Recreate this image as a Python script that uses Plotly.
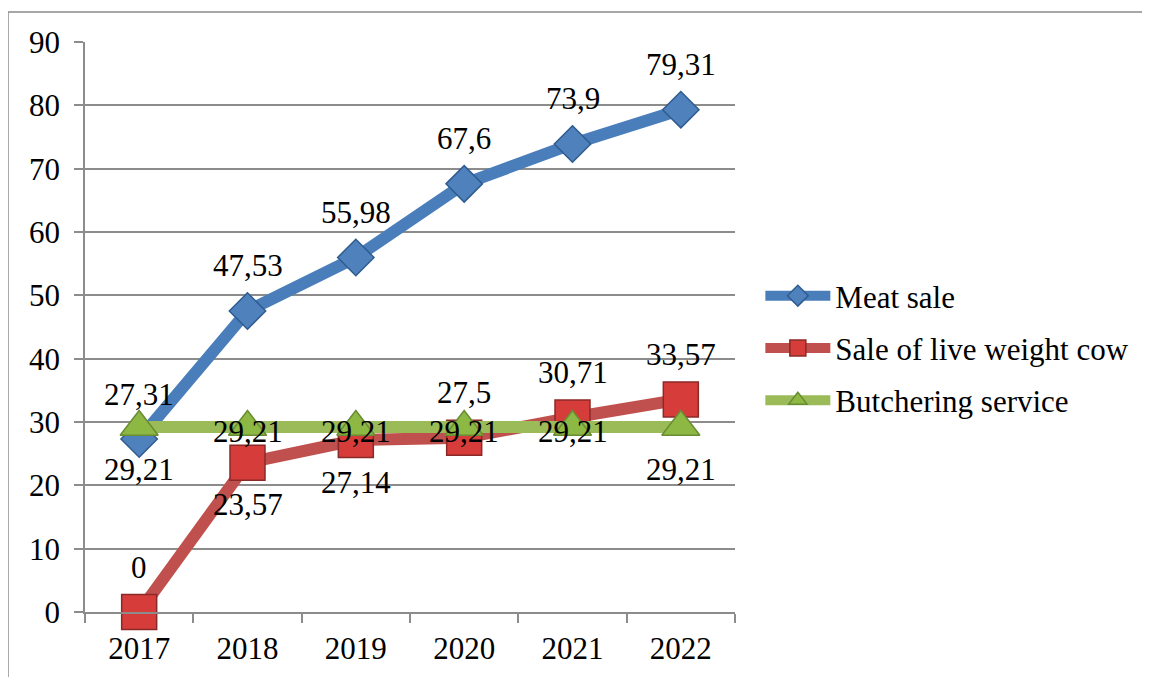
import plotly.graph_objects as go

years = [2017, 2018, 2019, 2020, 2021, 2022]
meat_sale = [27.31, 47.53, 55.98, 67.6, 73.9, 79.31]
live_weight = [0, 23.57, 27.14, 27.5, 30.71, 33.57]
butchering = [29.21, 29.21, 29.21, 29.21, 29.21, 29.21]
y_ticks = [0, 10, 20, 30, 40, 50, 60, 70, 80, 90]

series_names = ["Meat sale", "Sale of live weight cow", "Butchering service"]

# label placement style per point (Excel-like manual label positions)
meat_pos = ["above"] * 6
live_pos = ["above", "below", "below", "above", "above", "above"]
butch_pos = ["below", "center", "center", "center", "center", "below"]
shift = {"above": 45, "below": -42, "center": -4}

FONT = "Liberation Serif"
FS = 31
GRID = "#8c8c8c"

def fmt(v):
    return ("%g" % v).replace(".", ",")

fig = go.Figure()

styles = [
    (meat_sale, series_names[0], "#4A7EBB", "diamond", 28, "#4F81BD", "#2F5C8F"),
    (live_weight, series_names[1], "#C0504D", "square", 35, "#D63C3A", "#8A2A28"),
    (butchering, series_names[2], "#9BBB59", "triangle-up", 33, "#8DB843", "#6A8C33"),
]
for vals, name, lc, sym, ms, mfill, mline in styles:
    fig.add_trace(go.Scatter(
        x=years, y=vals, name=name, mode="lines+markers", legendgroup=name,
        line=dict(color=lc, width=12),
        marker=dict(symbol=sym, size=ms, color=mfill, line=dict(color=mline, width=1.5)),
        cliponaxis=False,
    ))

annotations = []
for vals, pos in [(meat_sale, meat_pos), (live_weight, live_pos), (butchering, butch_pos)]:
    for yr, v, p in zip(years, vals, pos):
        annotations.append(dict(
            x=yr, y=v, xref="x", yref="y", text=fmt(v), showarrow=False,
            yshift=shift[p], font=dict(family=FONT, size=FS, color="black"),
        ))

fig.update_layout(
    width=1150, height=677,
    margin=dict(l=77, r=423, t=34, b=73, autoexpand=False),
    paper_bgcolor="white", plot_bgcolor="white",
    font=dict(family=FONT, size=FS, color="black"),
    showlegend=True,
    legend=dict(
        x=1.039, y=0.463, xanchor="left", yanchor="middle",
        font=dict(family=FONT, size=FS, color="black"),
        itemwidth=65, bgcolor="rgba(0,0,0,0)",
        traceorder="grouped", tracegroupgap=9,
    ),
    xaxis=dict(
        range=[years[0] - 0.5, years[-1] + 0.5], tickvals=years,
        ticktext=[str(y) for y in years], tickangle=0,
        ticks="", showline=True, linecolor=GRID, linewidth=1.5,
        minor=dict(ticks="outside", ticklen=9, tickcolor=GRID, tickwidth=1.5,
                   dtick=1, tick0=years[0] - 0.5, showgrid=False),
        showgrid=False, zeroline=False, automargin=False,
        ticklabelstandoff=8,
        tickfont=dict(family=FONT, size=FS, color="black"),
    ),
    yaxis=dict(
        range=[0, 90], tickvals=y_ticks, ticks="outside", ticklen=9,
        tickcolor=GRID, tickwidth=1.5,
        showline=True, linecolor=GRID, linewidth=1.5,
        showgrid=True, gridcolor=GRID, gridwidth=1.5, zeroline=False,
        ticklabelstandoff=8, automargin=False,
        tickfont=dict(family=FONT, size=FS, color="black"),
    ),
    annotations=annotations,
    shapes=[dict(
        type="rect", xref="paper", yref="paper",
        x0=-0.1185, x1=2.0, y0=-0.5, y1=1.0526,
        line=dict(color="#8a8a8a", width=1.5), fillcolor="rgba(0,0,0,0)",
        layer="below",
    )],
)

fig.write_html("out.html")
